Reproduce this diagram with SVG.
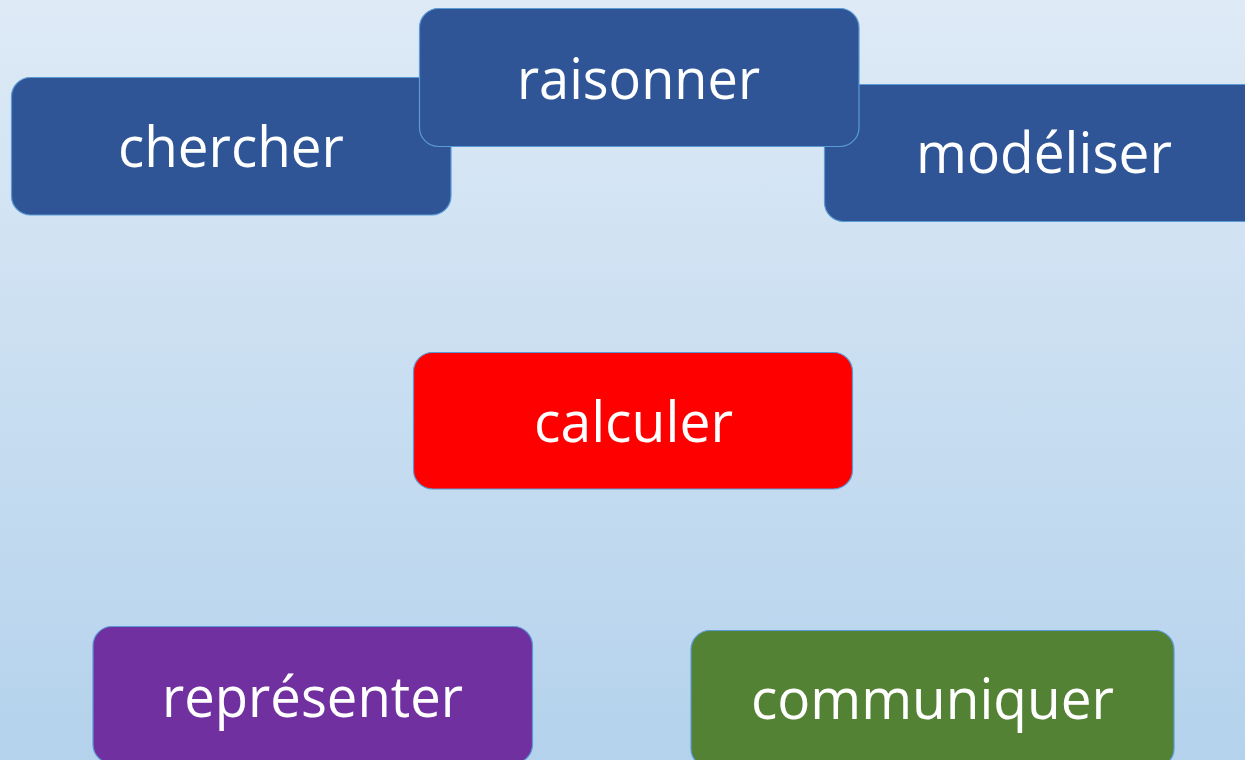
<svg xmlns="http://www.w3.org/2000/svg" width="1245" height="760" viewBox="0 0 1245 760">
<defs>
<linearGradient id="bg" x1="0" y1="0" x2="0" y2="1">
<stop offset="0" stop-color="#deeaf6"/>
<stop offset="1" stop-color="#b4d2ec"/>
</linearGradient>
</defs>
<style>
.box{stroke:#5b9bd5;stroke-width:1.2}
.blue{fill:#2f5597}
.red{fill:#ff0000}
.purple{fill:#7030a0}
.green{fill:#548235}
.lbl{fill:#ffffff;font-family:"Open Sans","Liberation Sans",sans-serif;font-size:57px;text-anchor:middle}
</style>
<rect x="0" y="0" width="1245" height="760" fill="url(#bg)"/>
<g id="connectors"></g>
<g id="chercher">
<rect class="box blue" x="11.5" y="77.5" width="439.5" height="137.5" rx="19"/>
<text class="lbl" x="231" y="167" textLength="226" lengthAdjust="spacingAndGlyphs">chercher</text>
</g>
<g id="modeliser">
<rect class="box blue" x="824.5" y="84.5" width="440" height="137" rx="19"/>
<text class="lbl" x="1044" y="173" textLength="256" lengthAdjust="spacingAndGlyphs">modéliser</text>
</g>
<g id="raisonner">
<rect class="box blue" x="419.5" y="8.5" width="439.5" height="138" rx="19"/>
<text class="lbl" x="638.5" y="99" textLength="243" lengthAdjust="spacingAndGlyphs">raisonner</text>
</g>
<g id="calculer">
<rect class="box red" x="413.5" y="352.5" width="439" height="136.5" rx="19"/>
<text class="lbl" x="633.5" y="442" textLength="199" lengthAdjust="spacingAndGlyphs">calculer</text>
</g>
<g id="representer">
<rect class="box purple" x="93" y="626.5" width="439.5" height="137" rx="19"/>
<text class="lbl" x="312.5" y="717" textLength="301" lengthAdjust="spacingAndGlyphs">représenter</text>
</g>
<g id="communiquer">
<rect class="box green" x="691" y="630.5" width="483" height="137" rx="19"/>
<text class="lbl" x="932.5" y="719" textLength="363" lengthAdjust="spacingAndGlyphs">communiquer</text>
</g>
</svg>
